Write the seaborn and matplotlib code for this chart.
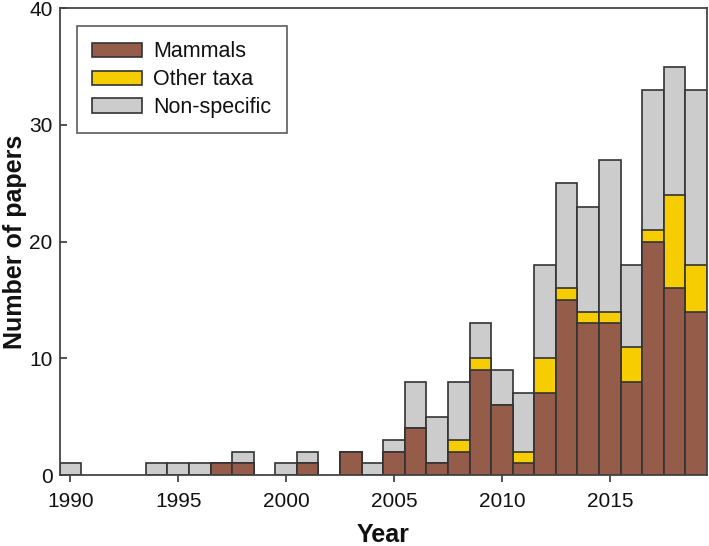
import matplotlib
matplotlib.use("Agg")
import matplotlib.pyplot as plt
import seaborn as sns
import numpy as np
from matplotlib.patches import Patch

years =       [1990, 1994, 1995, 1996, 1997, 1998, 2000, 2001, 2003, 2004, 2005, 2006, 2007, 2008, 2009,
               2010, 2011, 2012, 2013, 2014, 2015, 2016, 2017, 2018, 2019]
mammals =     [0, 0, 0, 0, 1, 1, 0, 1, 2, 0, 2, 4, 1, 2, 9, 6, 1, 7, 15, 13, 13, 8, 20, 16, 14]
other_taxa =  [0, 0, 0, 0, 0, 0, 0, 0, 0, 0, 0, 0, 0, 1, 1, 0, 1, 3, 1, 1, 1, 3, 1, 8, 4]
non_specific = [1, 1, 1, 1, 0, 1, 1, 1, 0, 1, 1, 4, 4, 5, 3, 3, 5, 8, 9, 9, 13, 7, 12, 11, 15]

labels = ["Mammals", "Other taxa", "Non-specific"]
colors = ["#955C4A", "#F5CD00", "#CCCCCC"]

sns.set_style("ticks")
plt.rcParams['font.family'] = ['Liberation Sans', 'DejaVu Sans']

m = np.array(mammals)
o = np.array(other_taxa)
n = np.array(non_specific)
tot = m + o + n
mo = m + o

fig = plt.figure(figsize=(7.09, 5.46), dpi=100)
ax = fig.add_axes([0.084, 0.130, 0.913, 0.855])

edge = "#333333"
lw = 1.2
sns.barplot(x=years, y=tot, native_scale=True, color=colors[2], edgecolor=edge,
            linewidth=lw, width=1, saturation=1, ax=ax)
sns.barplot(x=years, y=mo, native_scale=True, color=colors[1], edgecolor=edge,
            linewidth=lw, width=1, saturation=1, ax=ax)
sns.barplot(x=years, y=m, native_scale=True, color=colors[0], edgecolor=edge,
            linewidth=lw, width=1, saturation=1, ax=ax)

ax.set_xlim(1989.5, 2019.5)
ax.set_ylim(0, 40)
ax.set_xticks([1990, 1995, 2000, 2005, 2010, 2015])
ax.set_yticks([0, 10, 20, 30, 40])
ax.tick_params(axis='x', labelsize=15, direction='out', length=5, width=1.2, colors='#333333',
               labelcolor='#111111', pad=7)
ax.tick_params(axis='y', labelsize=15, direction='in', length=5, width=1.2, colors='#333333',
               labelcolor='#111111', pad=5)
for s in ax.spines.values():
    s.set_visible(True)
    s.set_linewidth(1.3)
    s.set_color('#444444')

ax.set_xlabel("Year", fontsize=18, fontweight='bold', labelpad=9, color='#111111')
ax.set_ylabel("Number of papers", fontsize=18, fontweight='bold', labelpad=1.5, color='#111111')

handles = [Patch(facecolor=c, edgecolor=edge, linewidth=1.2) for c in colors]
leg = ax.legend(handles, labels, loc='upper left', bbox_to_anchor=(0.027, 0.961), fontsize=15.5,
                frameon=True, fancybox=False, edgecolor='#333333', handlelength=2.3,
                handleheight=0.65, borderpad=0.7, labelspacing=0.32, handletextpad=0.55,
                borderaxespad=0)
leg.get_frame().set_linewidth(1.2)
for t in leg.get_texts():
    t.set_color('#111111')

fig.savefig("out.png", dpi=100)
